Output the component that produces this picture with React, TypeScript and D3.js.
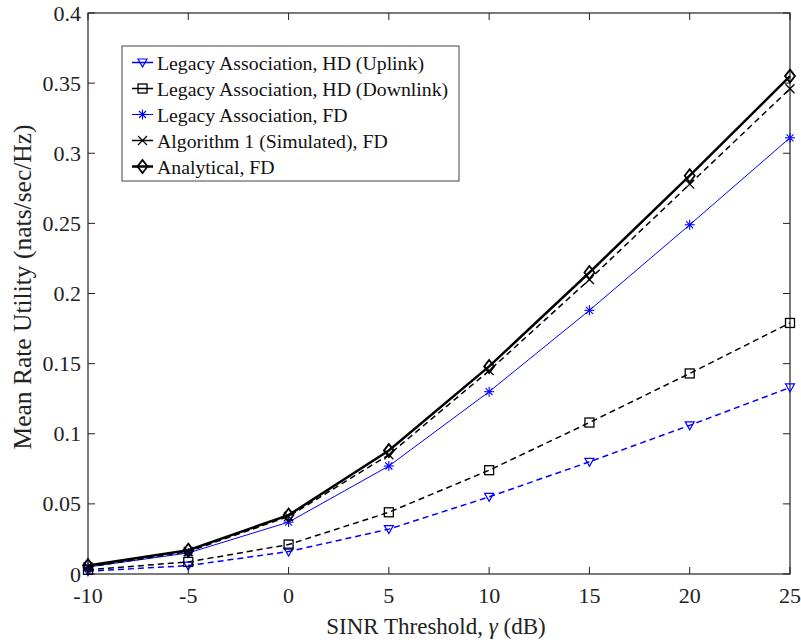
import React from "react";
import * as d3 from "d3";

const xVals = [-10, -5, 0, 5, 10, 15, 20, 25];
const uplinkHD = [0.002, 0.006, 0.016, 0.032, 0.055, 0.080, 0.106, 0.133];
const downlinkHD = [0.003, 0.0086, 0.021, 0.044, 0.074, 0.108, 0.143, 0.179];
const legacyFD = [0.005, 0.015, 0.037, 0.077, 0.130, 0.188, 0.249, 0.311];
const algo1FD = [0.005, 0.016, 0.041, 0.085, 0.145, 0.210, 0.278, 0.346];
const analyticalFD = [0.006, 0.017, 0.042, 0.088, 0.148, 0.215, 0.284, 0.355];

const xTicks = [-10, -5, 0, 5, 10, 15, 20, 25];
const yTicks = [0, 0.05, 0.1, 0.15, 0.2, 0.25, 0.3, 0.35, 0.4];
const yTickLabels = ["0", "0.05", "0.1", "0.15", "0.2", "0.25", "0.3", "0.35", "0.4"];

const seriesNames = [
  "Legacy Association, HD (Uplink)",
  "Legacy Association, HD (Downlink)",
  "Legacy Association, FD",
  "Algorithm 1 (Simulated), FD",
  "Analytical, FD",
];

type Marker = "tri" | "sq" | "star" | "x" | "dia";
const seriesStyle: { color: string; width: number; dash: string; marker: Marker }[] = [
  { color: "#0000ff", width: 1.5, dash: "6,4", marker: "tri" },
  { color: "#000000", width: 1.5, dash: "6,4", marker: "sq" },
  { color: "#0000ff", width: 1, dash: "", marker: "star" },
  { color: "#000000", width: 1.5, dash: "6,4", marker: "x" },
  { color: "#000000", width: 2.5, dash: "", marker: "dia" },
];
const seriesData = [uplinkHD, downlinkHD, legacyFD, algo1FD, analyticalFD];

const W = 801, H = 643;
const L = 88, R = 790, T = 13, B = 574;
const FONT = "'Liberation Serif', 'Times New Roman', serif";

function MarkerShape({ m, x, y, color }: { m: Marker; x: number; y: number; color: string }) {
  switch (m) {
    case "tri":
      return <path d={`M${x - 4.5},${y - 3.5} L${x + 4.5},${y - 3.5} L${x},${y + 4.5} Z`} fill="none" stroke={color} strokeWidth={1.2} />;
    case "sq":
      return <rect x={x - 4.5} y={y - 4.5} width={9} height={9} fill="none" stroke={color} strokeWidth={1.3} />;
    case "star": {
      const r = 5, d = r * 0.7;
      return (
        <g stroke={color} strokeWidth={1.1}>
          <line x1={x - r} y1={y} x2={x + r} y2={y} />
          <line x1={x} y1={y - r} x2={x} y2={y + r} />
          <line x1={x - d} y1={y - d} x2={x + d} y2={y + d} />
          <line x1={x - d} y1={y + d} x2={x + d} y2={y - d} />
        </g>
      );
    }
    case "x": {
      const r = 4.5;
      return (
        <g stroke={color} strokeWidth={1.3}>
          <line x1={x - r} y1={y - r} x2={x + r} y2={y + r} />
          <line x1={x - r} y1={y + r} x2={x + r} y2={y - r} />
        </g>
      );
    }
    case "dia":
      return <path d={`M${x},${y - 6.5} L${x + 5},${y} L${x},${y + 6.5} L${x - 5},${y} Z`} fill="none" stroke={color} strokeWidth={1.8} />;
  }
}

export default function App() {
  const xs = d3.scaleLinear().domain([-10, 25]).range([L, R]);
  const ys = d3.scaleLinear().domain([0, 0.4]).range([B, T]);
  const line = d3.line<[number, number]>().x(d => xs(d[0])).y(d => ys(d[1]));

  const legX = 122, legY = 46, legW = 337, legH = 135, rowH = 26;

  return (
    <svg width={W} height={H} style={{ position: "absolute", left: 0, top: 0, background: "#fff" }} fontFamily={FONT}>
      <rect x={0} y={0} width={W} height={H} fill="#fff" />
      {xTicks.map(t => (
        <g key={"xt" + t}>
          <line x1={xs(t)} x2={xs(t)} y1={B} y2={B - 7} stroke="#222" />
          <line x1={xs(t)} x2={xs(t)} y1={T} y2={T + 7} stroke="#222" />
          <text x={xs(t)} y={B + 29} fontSize={22} textAnchor="middle" fill="#222" fontFamily={FONT}>{t}</text>
        </g>
      ))}
      {yTicks.map((t, i) => (
        <g key={"yt" + t}>
          <line x1={L} x2={L + 7} y1={ys(t)} y2={ys(t)} stroke="#222" />
          <line x1={R} x2={R - 7} y1={ys(t)} y2={ys(t)} stroke="#222" />
          <text x={L - 7} y={ys(t) + 7.5} fontSize={22} textAnchor="end" fill="#222" fontFamily={FONT}>{yTickLabels[i]}</text>
        </g>
      ))}
      <rect x={L} y={T} width={R - L} height={B - T} fill="none" stroke="#222" strokeWidth={1.2} />

      {seriesData.map((vals, si) => {
        const st = seriesStyle[si];
        const pts = xVals.map((x, i) => [x, vals[i]] as [number, number]);
        return (
          <g key={"s" + si}>
            <path d={line(pts) || ""} fill="none" stroke={st.color} strokeWidth={st.width} strokeDasharray={st.dash} />
            {pts.map((p, i) => (
              <MarkerShape key={i} m={st.marker} x={xs(p[0])} y={ys(p[1])} color={st.color} />
            ))}
          </g>
        );
      })}

      <rect x={legX} y={legY} width={legW} height={legH} fill="#fff" stroke="#444" strokeWidth={1} />
      {seriesNames.map((n, i) => {
        const st = seriesStyle[i];
        const cy = legY + 16.5 + i * rowH;
        return (
          <g key={"l" + i}>
            <line x1={legX + 10} x2={legX + 31} y1={cy} y2={cy} stroke={st.color} strokeWidth={st.width} />
            <MarkerShape m={st.marker} x={legX + 20.5} y={cy} color={st.color} />
            <text x={legX + 35} y={cy + 7} fontSize={19.8} fill="#111" fontFamily={FONT}>{n}</text>
          </g>
        );
      })}

      <text x={436} y={634} fontSize={23} textAnchor="middle" fill="#222" fontFamily={FONT}>
        SINR Threshold, <tspan fontStyle="italic">γ</tspan> (dB)
      </text>
      <text transform={`translate(31, 287) rotate(-90)`} fontSize={25.5} textAnchor="middle" fill="#222" fontFamily={FONT}>
        Mean Rate Utility (nats/sec/Hz)
      </text>
    </svg>
  );
}
